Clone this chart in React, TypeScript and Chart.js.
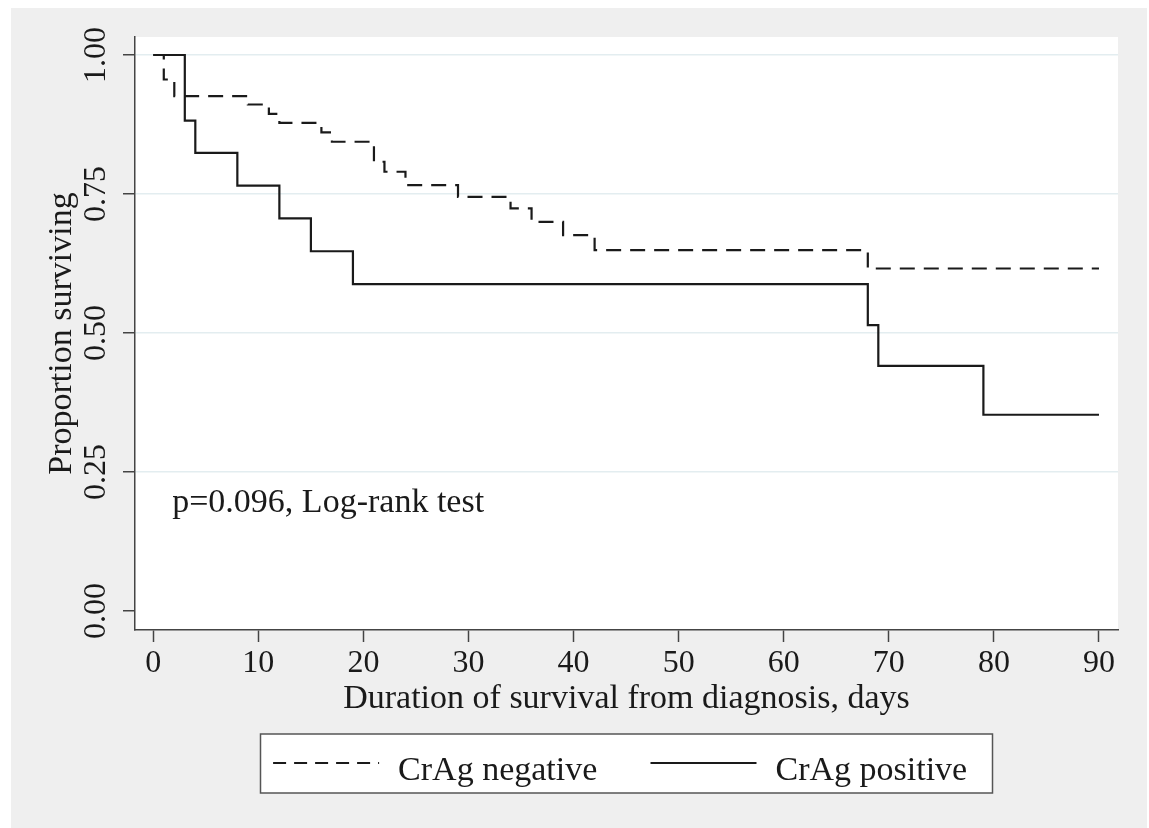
import React, { useEffect, useRef } from "react";
import { Chart, registerables } from "chart.js";

Chart.register(...registerables);

// ---- data ----
const xTicks = [0, 10, 20, 30, 40, 50, 60, 70, 80, 90];
const yTicks = [0, 0.25, 0.5, 0.75, 1];

const negDays = [0, 1, 2, 9, 11, 12, 16, 17, 21, 22, 24, 29, 34, 36, 39, 42, 68, 90];
const negSurv = [1, 0.956, 0.926, 0.911, 0.894, 0.878, 0.861, 0.844, 0.808, 0.79, 0.766, 0.745, 0.724, 0.7, 0.676, 0.649, 0.616, 0.616];

const posDays = [0, 3, 4, 8, 12, 15, 19, 68, 69, 79, 90];
const posSurv = [1, 0.882, 0.824, 0.765, 0.706, 0.647, 0.588, 0.514, 0.441, 0.353, 0.353];

const seriesLabels = ["CrAg negative", "CrAg positive"];
const xTitle = "Duration of survival from diagnosis, days";
const yTitle = "Proportion surviving";
const noteText = "p=0.096, Log-rank test";
const noteX = 1.8;
const noteY = 0.178;

// ---- styling ----
const FONT = "'Liberation Serif', 'Times New Roman', Times, serif";
const INK = "#1a1a1a";
const AXIS = "#444444";
const GRID = "#e3edf0";
const OUTER = "#efefef";

const X_MIN = -1.74;
const X_MAX = 91.81;
const Y_MIN = -0.0342;
const Y_MAX = 1.0324;

export default function App() {
  const ref = useRef<HTMLCanvasElement | null>(null);

  useEffect(() => {
    const canvas = ref.current;
    if (!canvas) return;

    const bgPlugin = {
      id: "stataBackground",
      beforeDraw(chart: any) {
        const { ctx, chartArea: a, width, height } = chart;
        ctx.save();
        ctx.fillStyle = OUTER;
        ctx.fillRect(0, 0, width, height);
        ctx.fillStyle = "#ffffff";
        ctx.fillRect(a.left, a.top, a.right - a.left, a.bottom - a.top);
        ctx.restore();
      },
    };

    const notePlugin = {
      id: "noteText",
      afterDatasetsDraw(chart: any) {
        const { ctx, scales } = chart;
        const px = scales.x.getPixelForValue(noteX);
        const py = scales.y.getPixelForValue(noteY);
        ctx.save();
        ctx.font = `34px ${FONT}`;
        ctx.fillStyle = INK;
        ctx.textAlign = "left";
        ctx.textBaseline = "alphabetic";
        ctx.fillText(noteText, px, py);
        ctx.restore();
      },
    };

    const legendPlugin = {
      id: "boxLegend",
      afterDraw(chart: any) {
        const { ctx, chartArea } = chart;
        const w = 732;
        const h = 59;
        const cx = (chartArea.left + chartArea.right) / 2;
        const left = cx - w / 2;
        const top = 726;
        ctx.save();
        ctx.fillStyle = "#ffffff";
        ctx.fillRect(left, top, w, h);
        ctx.strokeStyle = "#555555";
        ctx.lineWidth = 1.5;
        ctx.strokeRect(left, top, w, h);

        const sampleX = [12.6, 390];
        const textX = [137.6, 515];
        const sampleLen = 106;
        const lineY = top + 29;
        const baseY = top + 46;
        chart.data.datasets.forEach((ds: any, i: number) => {
          ctx.beginPath();
          ctx.strokeStyle = ds.borderColor;
          ctx.lineWidth = ds.borderWidth;
          ctx.setLineDash(ds.borderDash && ds.borderDash.length ? [13, 8] : []);
          ctx.moveTo(left + sampleX[i], lineY);
          ctx.lineTo(left + sampleX[i] + sampleLen, lineY);
          ctx.stroke();
          ctx.setLineDash([]);
          ctx.font = `34px ${FONT}`;
          ctx.fillStyle = INK;
          ctx.textAlign = "left";
          ctx.textBaseline = "alphabetic";
          ctx.fillText(ds.label, left + textX[i], baseY);
        });
        ctx.restore();
      },
    };

    const negData = negDays.map((d, i) => ({ x: d, y: negSurv[i] }));
    const posData = posDays.map((d, i) => ({ x: d, y: posSurv[i] }));

    const chart = new Chart(canvas, {
      type: "line",
      data: {
        datasets: [
          {
            label: seriesLabels[0],
            data: negData,
            borderColor: INK,
            borderWidth: 2.2,
            borderDash: [15, 9],
            stepped: true,
            pointRadius: 0,
            fill: false,
          },
          {
            label: seriesLabels[1],
            data: posData,
            borderColor: INK,
            borderWidth: 2.2,
            borderDash: [],
            stepped: true,
            pointRadius: 0,
            fill: false,
          },
        ],
      },
      options: {
        animation: false,
        responsive: false,
        devicePixelRatio: 1,
        layout: { padding: { left: 0, right: 29, top: 29, bottom: 88 } },
        plugins: {
          legend: { display: false },
          tooltip: { enabled: false },
        },
        elements: { point: { radius: 0 }, line: { tension: 0, borderCapStyle: "butt" } },
        scales: {
          x: {
            type: "linear",
            bounds: "data",
            min: X_MIN,
            max: X_MAX,
            afterFit: (s: any) => {
              s.height = 110;
            },
            afterBuildTicks: (s: any) => {
              s.ticks = xTicks.map((v) => ({ value: v }));
            },
            grid: {
              display: true,
              drawOnChartArea: false,
              drawTicks: true,
              tickLength: 12,
              tickColor: AXIS,
              tickWidth: 1.5,
            },
            border: { display: true, color: AXIS, width: 1.5 },
            ticks: {
              autoSkip: false,
              maxRotation: 0,
              padding: 2,
              color: INK,
              font: { family: FONT, size: 32 },
              callback: (v: any) => String(v),
            },
            title: {
              display: true,
              text: xTitle,
              color: INK,
              font: { family: FONT, size: 34 },
              padding: { top: 0, bottom: 21 },
            },
          },
          y: {
            type: "linear",
            bounds: "data",
            min: Y_MIN,
            max: Y_MAX,
            afterFit: (s: any) => {
              s.width = 124;
            },
            afterBuildTicks: (s: any) => {
              s.ticks = yTicks.map((v) => ({ value: v }));
            },
            grid: {
              display: true,
              drawOnChartArea: true,
              drawTicks: true,
              tickLength: 12,
              lineWidth: 1.5,
              color: (c: any) => (c.tick && c.tick.value === 0 ? "rgba(0,0,0,0)" : GRID),
              tickColor: AXIS,
              tickWidth: 1.5,
            },
            border: { display: true, color: AXIS, width: 1.5 },
            ticks: {
              autoSkip: false,
              minRotation: 90,
              maxRotation: 90,
              crossAlign: "center",
              padding: -2,
              color: INK,
              font: { family: FONT, size: 32 },
              callback: (v: any) => Number(v).toFixed(2),
            },
            title: {
              display: true,
              text: yTitle,
              color: INK,
              font: { family: FONT, size: 34 },
              padding: { top: 31, bottom: 0 },
            },
          },
        },
      },
      plugins: [bgPlugin, notePlugin, legendPlugin],
    } as any);

    return () => {
      chart.destroy();
    };
  }, []);

  return (
    <div
      style={{
        position: "fixed",
        left: 0,
        top: 0,
        width: 1149,
        height: 828,
        background: "#ffffff",
        overflow: "hidden",
      }}
    >
      <canvas
        ref={ref}
        width={1136}
        height={820}
        style={{ position: "absolute", left: 11, top: 8, width: 1136, height: 820 }}
      />
    </div>
  );
}
